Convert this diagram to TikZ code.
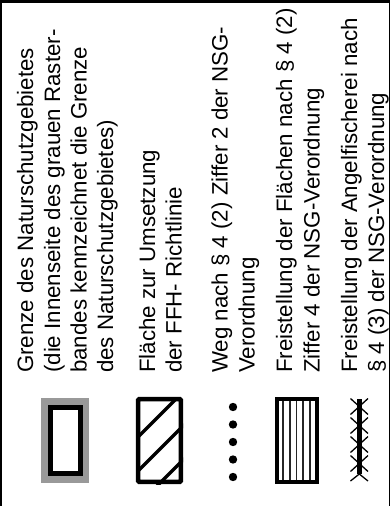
\documentclass[tikz,border=0pt]{standalone}
\usepackage{fontspec}
\setmainfont{Liberation Sans}
\definecolor{gband}{RGB}{153,153,153}
\begin{document}
\begin{tikzpicture}[x=1pt,y=-1pt,
  lbl/.style={rotate=90,anchor=base west,inner sep=0pt,font=\fontsize{22.3}{26.8}\selectfont},
  frameline/.style={line width=1.5pt},
  boxline/.style={line width=4.5pt},
  hatchline/.style={line width=3.5pt},
  dot/.style={fill=black}]
\useasboundingbox (0,0) rectangle (390,506);
% outer frame
\draw[line width=3pt] (0,1.5) -- (390,1.5);
\draw[frameline] (0.75,0) -- (0.75,506);
\draw[frameline] (389.25,0) -- (389.25,506);
% texts
\node[lbl] (t11) at (33,373) {Grenze des Naturschutzgebietes};
\node[lbl] (t12) at (60,373) {(die Innenseite des grauen Raster-};
\node[lbl] (t13) at (86.5,373) {bandes kennzeichnet die Grenze};
\node[lbl] (t14) at (113,373) {des Naturschutzgebietes)};
\node[lbl] (t21) at (155,373) {Fläche zur Umsetzung};
\node[lbl] (t22) at (181.5,373) {der FFH- Richtlinie};
\node[lbl] (t31) at (227.5,373) {Weg nach § 4 (2) Ziffer 2 der NSG-};
\node[lbl] (t32) at (254.5,373) {Verordnung};
\node[lbl] (t41) at (292,373) {Freistellung der Flächen nach § 4 (2)};
\node[lbl] (t42) at (319.5,373) {Ziffer 4 der NSG-Verordnung};
\node[lbl] (t51) at (357,373) {Freistellung der Angelfischerei nach};
\node[lbl] (t52) at (384,373) {§ 4 (3) der NSG-Verordnung};
% symbol 1
\fill[gband] (41,398) rectangle (89,483);
\draw[line width=5.5pt,fill=white] (50.7,407.7) rectangle (80.3,473.3);
% symbol 2
\begin{scope}
\clip (136,397) rectangle (183,484);
\draw[hatchline] (120,455) -- (200,375);
\draw[hatchline] (120,489) -- (200,409);
\draw[hatchline] (120,523) -- (200,443);
\end{scope}
\draw[boxline,rounded corners=1pt] (138.2,399.2) rectangle (180.8,481.8);
% symbol 3
\foreach \yy in {407,424.5,442,459.5,477}
  \fill (233,\yy) circle (4.2);
% symbol 4
\foreach \xx in {283.2,289.8,296.5,303.2,309.8}
  \draw[line width=1.8pt,black!85] (\xx,399) -- (\xx,482);
\draw[line width=4.3pt] (277.2,399.2) rectangle (317.2,481.8);
% symbol 5
\draw[line width=5pt] (359.3,399) -- (359.3,474);
\foreach \cc in {406.5,425.5,444.5,463.5}
  \draw[line width=1.3pt] (350.5,\cc-8) -- (368,\cc+8) (368,\cc-8) -- (350.5,\cc+8);
\draw[line width=1.3pt] (350.5,481) -- (359.3,474) -- (368,481);
\end{tikzpicture}
\end{document}
